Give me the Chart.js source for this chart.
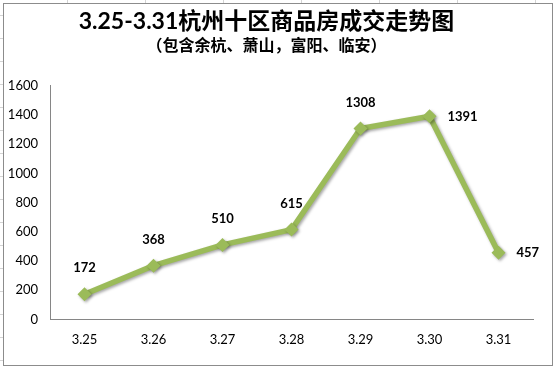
<!DOCTYPE html>
<html>
<head>
<meta charset="utf-8">
<script src="https://cdn.jsdelivr.net/npm/chart.js@4"></script>
<style>
  html, body { margin: 0; padding: 0; background: #fff; }
  #wrap { width: 555px; height: 369px; }
</style>
</head>
<body>
<div id="wrap"><canvas id="trendChart"></canvas></div>
<script>
const dates = ["3.25", "3.26", "3.27", "3.28", "3.29", "3.30", "3.31"];
const deals = [172, 368, 510, 615, 1308, 1391, 457];
const yTicks = [0, 200, 400, 600, 800, 1000, 1200, 1400, 1600];
const titleText = "3.25-3.31杭州十区商品房成交走势图";
const subtitleText = "（包含余杭、萧山，富阳、临安）";

const numFont = "Lato, 'Noto Sans CJK SC', sans-serif";
const green = "#9bbb59";

// sheet cell lines + chart frame behind everything
const sheetBg = {
  id: "sheetBg",
  beforeDraw(chart) {
    const c = chart.ctx;
    c.save();
    c.fillStyle = "#fff";
    c.fillRect(0, 0, chart.width, chart.height);
    c.strokeStyle = "#d4d4d4";
    c.lineWidth = 1;
    for (let x = 67; x < chart.width; x += 78) {
      c.beginPath(); c.moveTo(x + 0.5, 0); c.lineTo(x + 0.5, 3); c.stroke();
    }
    for (let y = 15; y < chart.height; y += 23) {
      c.beginPath(); c.moveTo(0, y + 0.5); c.lineTo(3, y + 0.5); c.stroke();
    }
    c.strokeStyle = "#8c8c8c";
    c.strokeRect(3.5, 3.5, 549, 362);
    c.restore();
  }
};

const lineShadow = {
  id: "lineShadow",
  beforeDatasetsDraw(chart) {
    const c = chart.ctx;
    c.save();
    c.shadowColor = "rgba(0,0,0,0.35)";
    c.shadowBlur = 3;
    c.shadowOffsetX = 1.5;
    c.shadowOffsetY = 1.5;
  },
  afterDatasetsDraw(chart) {
    chart.ctx.restore();
  }
};

// value labels: "up" = above the point, "right" = to its right
const labelPlace = ["up", "up", "up", "up", "up", "right", "right"];
const valueLabels = {
  id: "valueLabels",
  afterDatasetsDraw(chart) {
    const c = chart.ctx;
    const meta = chart.getDatasetMeta(0);
    c.save();
    c.font = "bold 13px " + numFont;
    c.fillStyle = "#000";
    c.textBaseline = "middle";
    meta.data.forEach((pt, i) => {
      const v = chart.data.datasets[0].data[i];
      if (labelPlace[i] === "right") {
        c.textAlign = "left";
        c.fillText(v, pt.x + 18, pt.y);
      } else {
        c.textAlign = "center";
        c.fillText(v, pt.x, pt.y - 26);
      }
    });
    c.restore();
  }
};

new Chart(document.getElementById("trendChart"), {
  type: "line",
  data: {
    labels: dates,
    datasets: [{
      data: deals,
      borderColor: green,
      backgroundColor: green,
      borderWidth: 5.5,
      pointStyle: "rectRot",
      pointRadius: 7,
      pointHoverRadius: 7,
      pointBorderWidth: 0,
      tension: 0,
      fill: false
    }]
  },
  options: {
    responsive: true,
    maintainAspectRatio: false,
    animation: false,
    layout: { padding: { left: 0, right: 22, top: 4, bottom: 8 } },
    plugins: {
      legend: { display: false },
      tooltip: { enabled: false },
      title: {
        display: true,
        text: titleText,
        color: "#000",
        font: { family: numFont, size: 23, weight: "bold" },
        padding: { top: 4, bottom: 1 }
      },
      subtitle: {
        display: true,
        text: subtitleText,
        color: "#000",
        font: { family: numFont, size: 16, weight: "bold" },
        padding: { bottom: 30 }
      }
    },
    scales: {
      x: {
        offset: true,
        grid: { display: false, drawTicks: false },
        border: { color: "#868686", width: 1 },
        ticks: { color: "#000", font: { family: numFont, size: 13 }, padding: 13 }
      },
      y: {
        min: 0,
        max: 1600,
        afterBuildTicks(scale) {
          scale.ticks = yTicks.map(v => ({ value: v }));
        },
        afterFit(scale) { scale.width = 50; },
        grid: { display: false, drawTicks: false },
        border: { color: "#868686", width: 1 },
        ticks: {
          color: "#000",
          font: { family: numFont, size: 13 },
          padding: 12,
          callback: v => String(v)
        }
      }
    }
  },
  plugins: [sheetBg, lineShadow, valueLabels]
});
</script>
</body>
</html>
